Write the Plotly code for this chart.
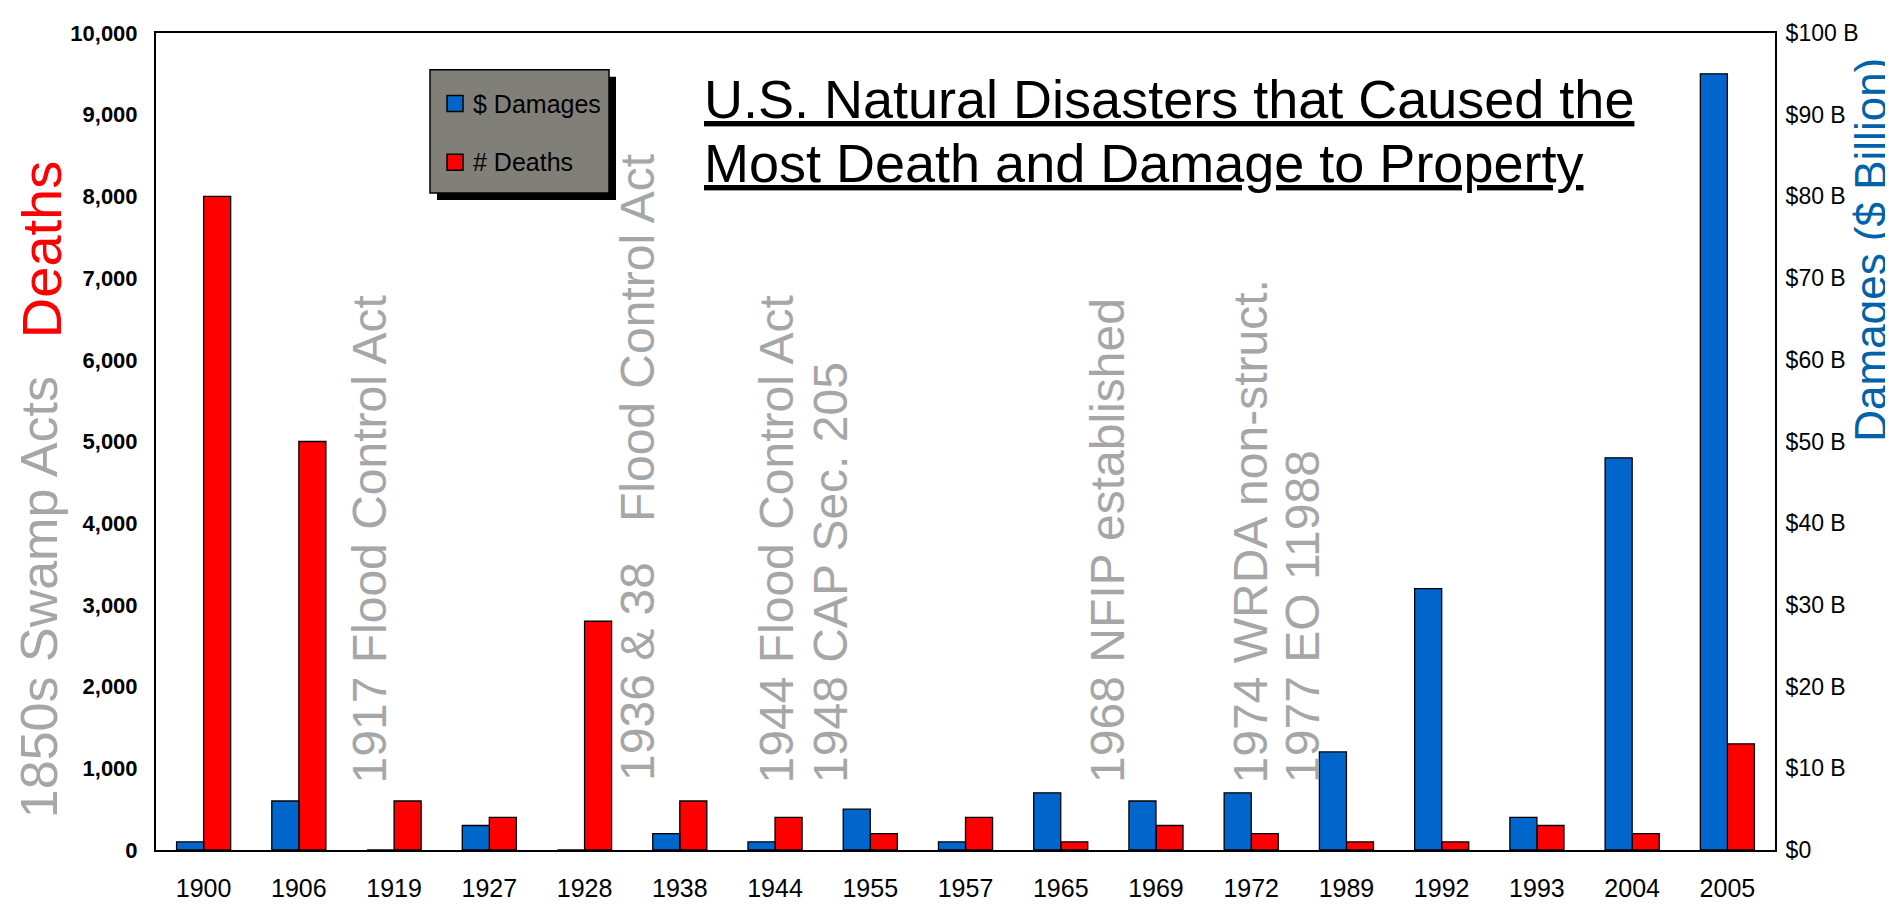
import plotly.graph_objects as go

years = ["1900", "1906", "1919", "1927", "1928", "1938", "1944", "1955", "1957",
         "1965", "1969", "1972", "1989", "1992", "1993", "2004", "2005"]
deaths = [8000, 5000, 600, 400, 2800, 600, 400, 200, 400,
          100, 300, 200, 100, 100, 300, 200, 1300]
damages_b = [1, 6, 0, 3, 0, 2, 1, 5, 1,
             7, 6, 7, 12, 32, 4, 48, 95]

death_ticks = list(range(0, 10001, 1000))
damage_ticks = list(range(0, 101, 10))
damage_ticktext = ["$0"] + [f"${v} B" for v in damage_ticks[1:]]

title_lines = ["U.S. Natural Disasters that Caused the", "Most Death and Damage to Property"]
notes = [
    ("1850s Swamp Acts", 31, 812, 52),
    ("1917 Flood Control Act", 361, 777, 48),
    ("1936 & 38\u00a0\u00a0\u00a0Flood Control Act", 630, 775, 48),
    ("1944 Flood Control Act", 768, 777, 48),
    ("1948 CAP Sec. 205", 823, 777, 48),
    ("1968 NFIP established", 1100, 777, 48),
    ("1974 WRDA non-struct.", 1242, 777, 48),
    ("1977 EO 11988", 1295, 777, 48),
]

W, H = 1893, 907
L, R, T, B = 148, 1767, 20, 842


def px(x):
    return (x - L) / (R - L)


def py(y):
    return (B - y) / (B - T)


BLUE = "#0066CC"
RED = "#FF0000"
SANS = "Liberation Sans, Arial, sans-serif"

fig = go.Figure()
fig.add_trace(go.Bar(
    x=years, y=damages_b, name="$ Damages", yaxis="y2",
    marker=dict(color=BLUE, line=dict(color="black", width=1.3)),
    width=0.284, offset=-0.284, showlegend=False,
))
fig.add_trace(go.Bar(
    x=years, y=deaths, name="# Deaths", yaxis="y",
    marker=dict(color=RED, line=dict(color="black", width=1.3)),
    width=0.284, offset=0, showlegend=False,
))

annotations = []
for text, x, ybot, size in notes:
    annotations.append(dict(
        text=text, x=px(x), y=py(ybot), xref="paper", yref="paper",
        xanchor="center", yanchor="bottom", textangle=-90, showarrow=False,
        font=dict(family=SANS, size=size, color="#A6A6A6"),
    ))

# axis titles
annotations.append(dict(
    text="Deaths", x=px(0), y=py(238), xref="paper", yref="paper",
    xanchor="left", yanchor="middle", textangle=-90, showarrow=False,
    font=dict(family=SANS, size=56, color="#FF0000"),
))
annotations.append(dict(
    text="Damages ($ Billion)", x=px(1863), y=py(238), xref="paper", yref="paper",
    xanchor="center", yanchor="middle", textangle=-90, showarrow=False,
    font=dict(family=SANS, size=44, color="#0062A8"),
))

# title lines
for line, yc in zip(title_lines, [86, 151]):
    annotations.append(dict(
        text=f"<u>{line}</u>", x=px(694), y=py(yc), xref="paper", yref="paper",
        xanchor="left", yanchor="middle", showarrow=False,
        font=dict(family=SANS, size=54, color="black"),
    ))

# legend box
shapes = [
    dict(type="rect", xref="paper", yref="paper", x0=px(429), x1=px(608), y0=py(64), y1=py(188),
         fillcolor="black", line=dict(width=0), layer="above"),
    dict(type="rect", xref="paper", yref="paper", x0=px(422), x1=px(601), y0=py(57), y1=py(181),
         fillcolor="#808078", line=dict(color="black", width=1.5), layer="above"),
    dict(type="rect", xref="paper", yref="paper", x0=px(439), x1=px(455), y0=py(83), y1=py(99),
         fillcolor=BLUE, line=dict(color="black", width=1.5), layer="above"),
    dict(type="rect", xref="paper", yref="paper", x0=px(439), x1=px(455), y0=py(142), y1=py(158),
         fillcolor=RED, line=dict(color="black", width=1.5), layer="above"),
]
for name, yc in [("$ Damages", 91), ("# Deaths", 150)]:
    annotations.append(dict(
        text=name, x=px(463), y=py(yc), xref="paper", yref="paper",
        xanchor="left", yanchor="middle", showarrow=False,
        font=dict(family=SANS, size=25, color="black"),
    ))

fig.update_layout(
    width=W, height=H,
    margin=dict(l=L, r=W - R, t=T, b=H - B, pad=0),
    paper_bgcolor="white", plot_bgcolor="white",
    barmode="overlay", showlegend=False,
    xaxis=dict(
        type="category", categoryorder="array", categoryarray=years,
        showline=True, linecolor="black", linewidth=2, mirror=True,
        showgrid=False, ticks="", zeroline=False, ticklabelstandoff=15,
        tickfont=dict(family=SANS, size=25, color="black"),
    ),
    yaxis=dict(
        range=[0, 10000], tickvals=death_ticks, tickformat=",",
        showline=True, linecolor="black", linewidth=2,
        showgrid=False, ticks="", zeroline=False, ticklabelstandoff=12,
        tickfont=dict(family=SANS, size=22, color="black", weight="bold"),
    ),
    yaxis2=dict(
        range=[0, 100], tickvals=damage_ticks, ticktext=damage_ticktext,
        overlaying="y", side="right",
        showline=True, linecolor="black", linewidth=2,
        showgrid=False, ticks="", zeroline=False, ticklabelstandoff=4,
        tickfont=dict(family=SANS, size=23, color="black"),
    ),
    annotations=annotations, shapes=shapes,
)

fig.write_html("out.html")
